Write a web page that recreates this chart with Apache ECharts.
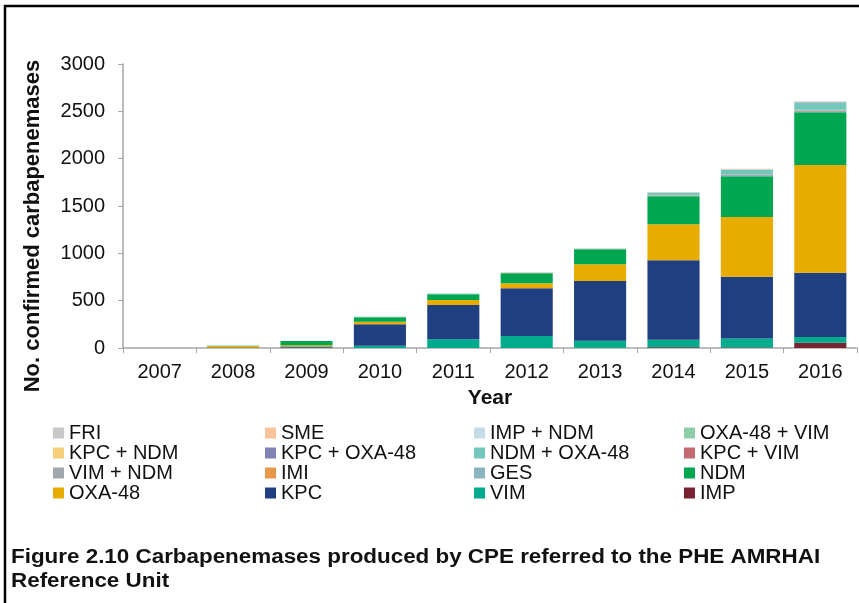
<!DOCTYPE html>
<html>
<head>
<meta charset="utf-8">
<script src="https://cdn.jsdelivr.net/npm/echarts@6/dist/echarts.min.js"></script>
<style>
  html, body { margin: 0; padding: 0; background: #fff; }
  #chart { width: 859px; height: 603px; }
</style>
</head>
<body>
<div id="chart"></div>
<script>
// data
var years = ['2007', '2008', '2009', '2010', '2011', '2012', '2013', '2014', '2015', '2016']
var yTicks = [0, 500, 1000, 1500, 2000, 2500, 3000]

var imp = [0, 0, 0, 0, 0, 0, 2, 8, 5, 56]
var vim = [0, 2, 5, 25, 92, 127, 75, 78, 95, 60]
var kpc = [0, 3, 10, 225, 362, 503, 631, 840, 652, 680]
var oxa48 = [0, 15, 14, 28, 53, 53, 176, 380, 633, 1137]
var ndm = [0, 4, 45, 46, 60, 106, 159, 296, 430, 557]
var ges = [0, 0, 0, 0, 0, 0, 0, 5, 12, 18]
var imi = [0, 0, 0, 0, 0, 2, 0, 3, 3, 5]
var vimNdm = [0, 0, 0, 0, 0, 0, 0, 2, 3, 3]
var kpcVim = [0, 0, 0, 0, 0, 0, 1, 1, 2, 2]
var ndmOxa48 = [0, 0, 0, 3, 5, 4, 5, 25, 45, 70]
var kpcOxa48 = [0, 0, 0, 0, 0, 0, 0, 2, 2, 4]
var kpcNdm = [0, 0, 0, 0, 0, 0, 1, 3, 3, 4]
var oxa48Vim = [0, 0, 0, 2, 3, 2, 2, 2, 3, 3]
var impNdm = [0, 0, 0, 1, 2, 2, 2, 2, 4, 4]
var sme = [0, 0, 0, 0, 0, 0, 0, 1, 2, 2]
var fri = [0, 0, 0, 0, 0, 0, 0, 0, 0, 2]

// stacked bottom -> top
var seriesDefs = [
  { name: 'IMP', data: imp, color: '#7b2232' },
  { name: 'VIM', data: vim, color: '#00ab8e' },
  { name: 'KPC', data: kpc, color: '#1f3f80' },
  { name: 'OXA-48', data: oxa48, color: '#e8ab00' },
  { name: 'NDM', data: ndm, color: '#00a650' },
  { name: 'GES', data: ges, color: '#8ab4c0' },
  { name: 'IMI', data: imi, color: '#e8964a' },
  { name: 'VIM + NDM', data: vimNdm, color: '#a0a8ad' },
  { name: 'KPC + VIM', data: kpcVim, color: '#c36b6e' },
  { name: 'NDM + OXA-48', data: ndmOxa48, color: '#72c8bd' },
  { name: 'KPC + OXA-48', data: kpcOxa48, color: '#7f83b5' },
  { name: 'KPC + NDM', data: kpcNdm, color: '#f5cf7a' },
  { name: 'OXA-48 + VIM', data: oxa48Vim, color: '#8dcea6' },
  { name: 'IMP + NDM', data: impNdm, color: '#c5dbe8' },
  { name: 'SME', data: sme, color: '#f9c49a' },
  { name: 'FRI', data: fri, color: '#c8c8c8' }
]

var legendColumns = [
  ['FRI', 'KPC + NDM', 'VIM + NDM', 'OXA-48'],
  ['SME', 'KPC + OXA-48', 'IMI', 'KPC'],
  ['IMP + NDM', 'NDM + OXA-48', 'GES', 'VIM'],
  ['OXA-48 + VIM', 'KPC + VIM', 'NDM', 'IMP']
]
var legendLeft = [48, 260, 469, 679]

var font = '"Liberation Sans", Arial, sans-serif'
var chart = echarts.init(document.getElementById('chart'))

chart.setOption({
  animation: false,
  textStyle: { fontFamily: font },
  grid: { left: 123, right: 2, top: 64, bottom: 255 },
  legend: legendColumns.map(function (col, i) {
    return {
      orient: 'vertical',
      left: legendLeft[i],
      top: 418,
      itemWidth: 11,
      itemHeight: 11,
      itemGap: 0,
      icon: 'rect',
      selectedMode: false,
      data: col,
      textStyle: { fontSize: 20, color: '#111', lineHeight: 20, fontFamily: font }
    }
  }),
  xAxis: {
    type: 'category',
    data: years,
    name: 'Year',
    nameLocation: 'middle',
    nameGap: 40,
    nameTextStyle: { fontSize: 21, fontWeight: 'bold', color: '#111' },
    axisLine: { lineStyle: { color: '#a6a6a6', width: 1.5 } },
    axisTick: { show: true, length: 5, lineStyle: { color: '#a6a6a6' } },
    axisLabel: { fontSize: 20, color: '#111', margin: 14 }
  },
  yAxis: {
    type: 'value',
    min: yTicks[0],
    max: yTicks[yTicks.length - 1],
    interval: 500,
    axisLine: { show: true, lineStyle: { color: '#a6a6a6', width: 1.5 } },
    axisTick: { show: true, length: 5, lineStyle: { color: '#a6a6a6' } },
    splitLine: { show: false },
    axisLabel: {
      fontSize: 20,
      color: '#111',
      margin: 18,
      formatter: function (v) { return String(v) }
    }
  },
  graphic: [
    {
      type: 'rect',
      shape: { x: 5, y: 6, width: 900, height: 700 },
      style: { fill: 'none', stroke: '#000', lineWidth: 2.5 },
      silent: true
    },
    {
      type: 'text',
      x: 33,
      y: 226,
      rotation: Math.PI / 2,
      style: {
        text: 'No. confirmed carbapenemases',
        font: 'bold 22px ' + font,
        fill: '#111',
        align: 'center',
        verticalAlign: 'middle'
      }
    },
    {
      type: 'text',
      x: 11,
      y: 545,
      scaleX: 1.12,
      style: {
        text: 'Figure 2.10 Carbapenemases produced by CPE referred to the PHE AMRHAI\nReference Unit',
        font: 'bold 20px ' + font,
        fill: '#111',
        lineHeight: 24
      }
    }
  ],
  series: seriesDefs.map(function (s) {
    return {
      name: s.name,
      type: 'bar',
      stack: 'total',
      data: s.data,
      barCategoryGap: '29%',
      itemStyle: { color: s.color }
    }
  })
})
</script>
</body>
</html>
